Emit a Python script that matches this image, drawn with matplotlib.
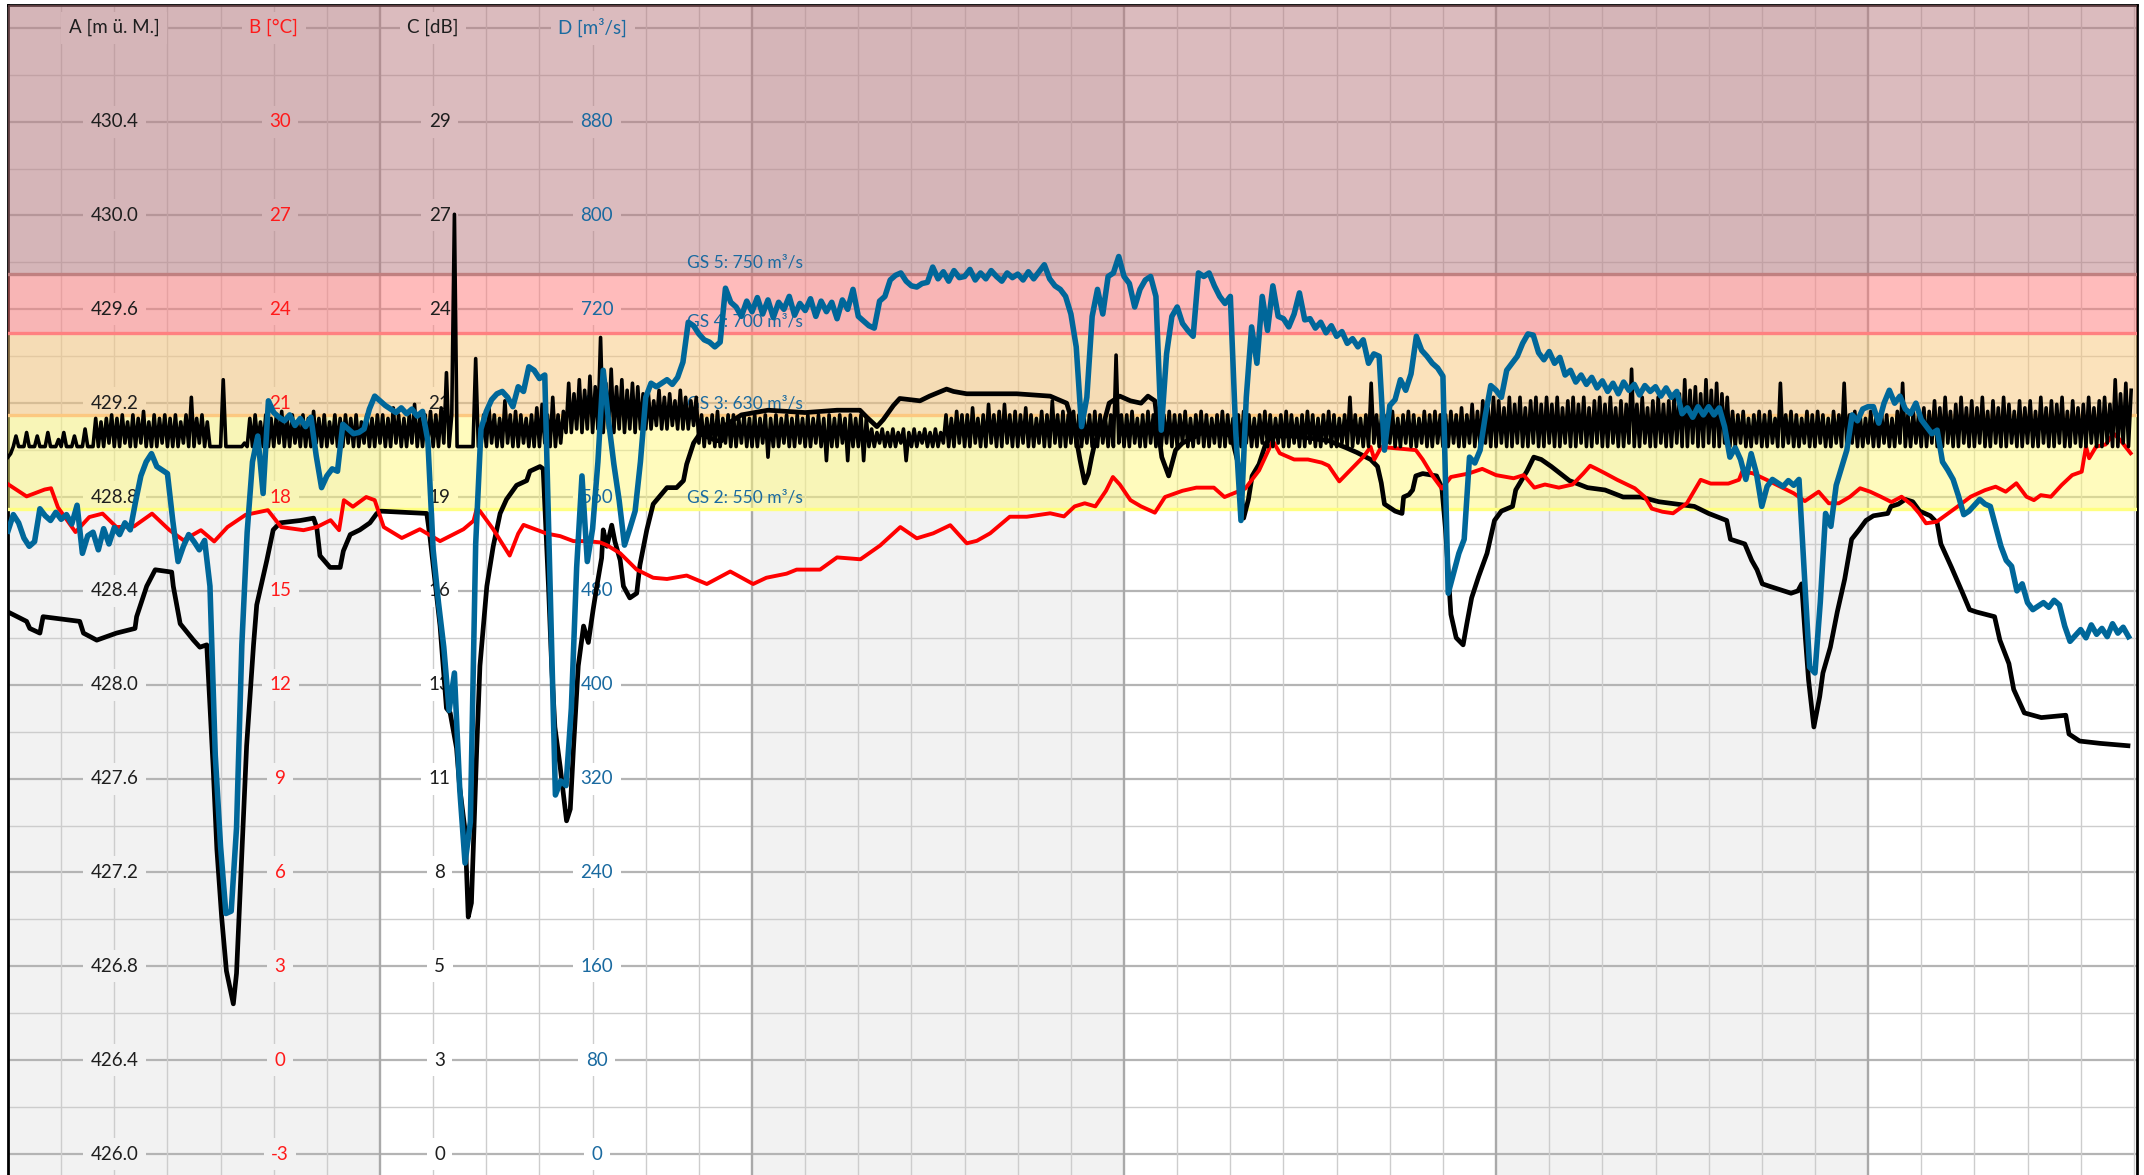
import numpy as np
import matplotlib.pyplot as plt
from matplotlib.transforms import blended_transform_factory
from matplotlib.patches import Rectangle

plt.rcParams['font.family'] = ['Lato', 'DejaVu Sans']

#============================================
# axis scales: one label row per major gridline
a_ticks = [426.0, 426.4, 426.8, 427.2, 427.6, 428.0, 428.4, 428.8, 429.2, 429.6, 430.0, 430.4]
b_ticks = [-3, 0, 3, 6, 9, 12, 15, 18, 21, 24, 27, 30]
c_ticks = [0, 3, 5, 8, 11, 13, 16, 19, 21, 24, 27, 29]
d_ticks = [0, 80, 160, 240, 320, 400, 480, 560, 640, 720, 800, 880]
axis_titles = ['A [m ü. M.]', 'B [°C]', 'C [dB]', 'D [m³/s]']

gs_levels = [550, 630, 700, 750]
gs_labels = ['GS 2: 550 m³/s', 'GS 3: 630 m³/s', 'GS 4: 700 m³/s', 'GS 5: 750 m³/s']

#============================================
# A (black, smooth)
a_days = [0.00, 0.35, 0.41, 0.60, 0.66, 1.35, 1.42, 1.67, 2.04, 2.39,
          2.42, 2.61, 2.77, 3.08, 3.11, 3.24, 3.49, 3.61, 3.74, 3.80,
          3.86, 3.93, 4.02, 4.11, 4.24, 4.30, 4.37, 4.49, 4.62, 4.68,
          4.80, 4.87, 4.99, 5.12, 5.50, 5.75, 5.81, 5.87, 6.06, 6.25,
          6.31, 6.44, 6.62, 6.81, 6.94, 7.00, 7.88, 7.94, 8.00, 8.13,
          8.25, 8.32, 8.44, 8.50, 8.60, 8.66, 8.72, 8.82, 8.88, 9.01,
          9.13, 9.26, 9.38, 9.57, 9.76, 9.82, 10.01, 10.07, 10.10, 10.17,
          10.23, 10.29, 10.39, 10.51, 10.58, 10.64, 10.73, 10.83, 10.92, 11.01,
          11.08, 11.17, 11.20, 11.27, 11.36, 11.42, 11.52, 11.58, 11.70, 11.83,
          11.89, 12.02, 12.14, 12.40, 12.58, 12.71, 12.77, 12.90, 13.02, 13.33,
          13.43, 13.46, 13.80, 14.30, 15.00, 15.60, 16.03, 16.16, 16.35, 16.47,
          16.66, 16.78, 17.16, 17.34, 17.66, 17.79, 18.04, 18.67, 18.98, 19.61,
          19.92, 20.07, 20.17, 20.26, 20.33, 20.39, 20.46, 20.59, 20.72, 20.92,
          21.12, 21.32, 21.45, 21.58, 21.64, 21.71, 21.84, 21.90, 21.97, 22.10,
          22.36, 22.56, 22.89, 23.02, 23.15, 23.25, 23.34, 23.41, 23.54, 23.67,
          23.80, 24.20, 24.85, 25.18, 25.38, 25.64, 25.77, 25.84, 25.90, 26.10,
          26.23, 26.26, 26.36, 26.43, 26.49, 26.62, 26.88, 26.98, 27.05, 27.15,
          27.25, 27.38, 27.45, 27.54, 27.67, 27.83, 27.97, 28.10, 28.31, 28.37,
          28.58, 28.71, 28.85, 29.04, 29.38, 29.72, 30.05, 30.39, 30.73, 31.06,
          31.40, 31.73, 32.00, 32.34, 32.41, 32.68, 32.81, 32.91, 33.01, 33.14,
          33.55, 33.68, 33.75, 33.81, 33.88, 33.98, 34.09, 34.15, 34.29, 34.42,
          34.56, 34.69, 34.83, 34.96, 35.10, 35.37, 35.43, 35.57, 35.70, 35.84,
          35.97, 36.17, 36.30, 36.37, 36.57, 36.78, 36.91, 37.04, 37.38, 37.48,
          37.65, 37.74, 37.94, 38.26, 38.72, 38.78, 38.98, 39.37, 39.89]
a_vals = [428.31, 428.27, 428.24, 428.22, 428.29, 428.27, 428.22, 428.19, 428.22, 428.24,
          428.29, 428.42, 428.49, 428.48, 428.42, 428.26, 428.19, 428.16, 428.17, 427.91,
          427.65, 427.30, 427.01, 426.78, 426.64, 426.77, 427.13, 427.74, 428.17, 428.34,
          428.46, 428.53, 428.66, 428.69, 428.70, 428.71, 428.67, 428.55, 428.50, 428.50,
          428.57, 428.64, 428.66, 428.69, 428.73, 428.74, 428.73, 428.63, 428.51, 428.25,
          427.90, 427.88, 427.73, 427.56, 427.38, 427.01, 427.07, 427.73, 428.08, 428.42,
          428.59, 428.73, 428.79, 428.85, 428.87, 428.91, 428.93, 428.92, 428.77, 428.42,
          428.08, 427.82, 427.65, 427.42, 427.47, 427.73, 428.08, 428.25, 428.18, 428.32,
          428.42, 428.54, 428.66, 428.59, 428.68, 428.61, 428.53, 428.42, 428.37, 428.39,
          428.51, 428.66, 428.77, 428.84, 428.84, 428.87, 428.94, 429.03, 429.07, 429.04,
          429.04, 429.10, 429.15, 429.17, 429.16, 429.17, 429.17, 429.14, 429.10, 429.13,
          429.19, 429.22, 429.21, 429.23, 429.26, 429.25, 429.24, 429.24, 429.24, 429.23,
          429.20, 429.09, 428.96, 428.86, 428.90, 428.97, 429.04, 429.09, 429.20, 429.23,
          429.21, 429.20, 429.23, 429.21, 429.09, 428.97, 428.89, 428.94, 429.00, 429.03,
          429.06, 429.09, 429.07, 429.06, 428.94, 428.71, 428.79, 428.89, 428.94, 429.03,
          429.06, 429.06, 429.04, 429.01, 428.99, 428.96, 428.93, 428.86, 428.77, 428.74,
          428.73, 428.80, 428.81, 428.83, 428.89, 428.90, 428.89, 428.84, 428.66, 428.30,
          428.20, 428.17, 428.26, 428.37, 428.46, 428.56, 428.70, 428.74, 428.76, 428.83,
          428.91, 428.97, 428.96, 428.93, 428.87, 428.84, 428.83, 428.80, 428.80, 428.78,
          428.77, 428.76, 428.73, 428.70, 428.62, 428.60, 428.53, 428.49, 428.43, 428.42,
          428.39, 428.40, 428.43, 428.23, 428.02, 427.82, 427.95, 428.05, 428.16, 428.31,
          428.45, 428.62, 428.66, 428.70, 428.72, 428.73, 428.76, 428.77, 428.79, 428.78,
          428.74, 428.72, 428.69, 428.60, 428.50, 428.39, 428.32, 428.31, 428.29, 428.19,
          428.09, 427.98, 427.88, 427.86, 427.87, 427.79, 427.76, 427.75, 427.74]

# B (red)
b_days = [0.00, 0.35, 0.69, 0.81, 0.94, 1.27, 1.53, 1.78, 2.04, 2.37,
          2.71, 3.04, 3.30, 3.63, 3.88, 4.13, 4.47, 4.89, 5.14, 5.56,
          5.81, 6.07, 6.23, 6.32, 6.49, 6.74, 6.90, 7.07, 7.41, 7.75,
          8.13, 8.57, 8.76, 8.82, 8.88, 9.13, 9.44, 9.60, 9.70, 9.95,
          10.14, 10.39, 10.64, 10.89, 11.14, 11.27, 11.52, 11.83, 12.14, 12.40,
          12.77, 13.15, 13.59, 14.02, 14.27, 14.65, 14.84, 15.28, 15.60, 16.04,
          16.41, 16.79, 17.10, 17.41, 17.73, 18.04, 18.23, 18.48, 18.85, 19.17,
          19.61, 19.87, 20.07, 20.26, 20.46, 20.66, 20.79, 20.92, 21.12, 21.32,
          21.58, 21.77, 22.10, 22.36, 22.69, 22.89, 23.28, 23.54, 23.80, 23.93,
          24.20, 24.46, 24.72, 24.85, 25.05, 25.25, 25.51, 25.64, 25.71, 25.84,
          26.17, 26.49, 26.62, 26.82, 26.98, 27.15, 27.48, 27.74, 28.00, 28.33,
          28.52, 28.72, 28.92, 29.18, 29.44, 29.64, 29.77, 29.89, 30.05, 30.28,
          30.61, 30.80, 30.93, 31.13, 31.33, 31.59, 31.85, 32.04, 32.37, 32.57,
          32.63, 32.83, 33.09, 33.35, 33.60, 33.81, 34.07, 34.26, 34.45, 34.66,
          34.85, 35.04, 35.24, 35.44, 35.63, 35.83, 35.96, 36.09, 36.29, 36.42,
          36.68, 36.93, 37.20, 37.40, 37.59, 37.79, 37.98, 38.12, 38.25, 38.44,
          38.64, 38.84, 39.02, 39.10, 39.16, 39.29, 39.47, 39.62, 39.75, 39.94]
b_vals = [18.41, 18.02, 18.24, 18.28, 17.67, 16.88, 17.36, 17.47, 17.04, 17.06,
          17.47, 16.94, 16.62, 16.94, 16.58, 17.04, 17.43, 17.58, 17.04, 16.94,
          17.04, 17.26, 16.94, 17.90, 17.69, 18.00, 17.90, 17.04, 16.69, 16.97,
          16.59, 16.97, 17.24, 17.63, 17.55, 16.97, 16.13, 16.83, 17.11, 16.95,
          16.83, 16.75, 16.59, 16.59, 16.55, 16.46, 16.20, 15.68, 15.42, 15.38,
          15.49, 15.22, 15.62, 15.22, 15.42, 15.55, 15.68, 15.68, 16.07, 16.01,
          16.45, 17.04, 16.68, 16.84, 17.10, 16.52, 16.60, 16.84, 17.37, 17.37,
          17.48, 17.38, 17.70, 17.80, 17.70, 18.20, 18.64, 18.40, 17.90, 17.70,
          17.50, 18.00, 18.20, 18.30, 18.30, 18.00, 18.27, 18.85, 19.80, 19.40,
          19.20, 19.20, 19.10, 19.00, 18.50, 18.85, 19.30, 19.60, 19.20, 19.60,
          19.55, 19.50, 19.20, 18.64, 18.27, 18.64, 18.75, 18.90, 18.70, 18.60,
          18.70, 18.30, 18.40, 18.30, 18.40, 18.75, 19.00, 18.90, 18.76, 18.55,
          18.28, 18.00, 17.63, 17.53, 17.48, 17.80, 18.55, 18.43, 18.43, 18.55,
          18.81, 18.76, 18.55, 18.33, 18.12, 17.87, 18.17, 17.80, 17.80, 18.01,
          18.28, 18.17, 18.01, 17.84, 18.01, 17.74, 17.48, 17.16, 17.21, 17.37,
          17.69, 18.01, 18.22, 18.33, 18.17, 18.44, 18.01, 17.90, 18.06, 18.01,
          18.38, 18.70, 18.81, 19.61, 19.24, 19.61, 19.68, 20.03, 19.81, 19.40]

# C (black, noisy), one reading every 0.05 day (one row per day)
c_vals = [
    19.8, 19.9, 20.1, 20.4, 20.1, 20.1, 20.1, 20.5, 20.1, 20.1, 20.1, 20.4, 20.1, 20.1, 20.1, 20.5, 20.1, 20.1, 20.1, 20.3,
    20.1, 20.5, 20.1, 20.1, 20.1, 20.4, 20.1, 20.1, 20.1, 20.6, 20.1, 20.1, 20.1, 20.9, 20.1, 20.8, 20.1, 20.9, 20.2, 21.0,
    20.1, 20.9, 20.1, 21.0, 20.2, 20.8, 20.1, 21.0, 20.1, 20.9, 20.2, 21.1, 20.1, 20.8, 20.1, 21.0, 20.1, 20.9, 20.2, 21.0,
    20.1, 20.9, 20.1, 21.0, 20.1, 20.8, 20.2, 21.0, 20.1, 21.5, 20.1, 20.9, 20.2, 21.0, 20.1, 20.8, 20.1, 20.1, 20.1, 20.1,
    20.1, 22.0, 20.1, 20.1, 20.1, 20.1, 20.1, 20.1, 20.1, 20.2, 20.1, 20.9, 20.1, 21.0, 20.2, 20.8, 20.1, 21.0, 20.1, 20.9,
    20.1, 21.0, 20.2, 21.1, 20.1, 20.9, 20.1, 21.0, 20.2, 20.8, 20.1, 21.0, 20.1, 20.9, 20.1, 21.1, 20.2, 20.9, 20.1, 21.0,
    20.1, 20.8, 20.2, 21.0, 20.1, 20.9, 20.1, 21.0, 20.2, 20.9, 20.1, 21.0, 20.1, 20.8, 20.2, 21.0, 20.1, 20.9, 20.1, 21.0,
    20.2, 21.0, 20.1, 20.9, 20.1, 21.2, 20.2, 21.0, 20.1, 20.9, 20.1, 21.0, 20.2, 21.3, 20.1, 20.9, 20.1, 21.0, 20.2, 21.1,
    20.1, 21.0, 20.1, 21.2, 20.2, 22.2, 20.1, 21.0, 26.7, 20.1, 20.1, 20.1, 20.1, 20.1, 20.1, 20.1, 22.6, 20.1, 20.1, 21.0,
    20.1, 21.2, 20.2, 21.0, 20.1, 20.9, 20.1, 21.4, 20.2, 21.0, 20.1, 21.1, 20.1, 21.0, 20.2, 20.9, 20.1, 21.0, 20.1, 21.2,
    20.1, 21.3, 20.2, 21.0, 20.1, 21.5, 20.1, 21.0, 20.2, 21.1, 20.5, 21.9, 20.5, 21.6, 20.6, 22.0, 20.5, 21.7, 20.6, 22.1,
    20.5, 21.8, 20.6, 23.2, 20.5, 21.9, 20.6, 22.3, 20.5, 21.8, 20.6, 22.0, 20.5, 21.7, 20.6, 21.9, 20.5, 21.8, 20.6, 21.6,
    20.6, 21.6, 20.6, 21.4, 20.7, 21.7, 20.6, 21.5, 20.6, 21.6, 20.7, 21.4, 20.6, 21.7, 20.6, 21.5, 20.6, 21.4, 20.7, 21.5,
    20.2, 21.0, 20.1, 20.9, 20.2, 21.0, 20.1, 21.1, 20.1, 20.9, 20.2, 21.0, 20.1, 21.0, 20.1, 20.9, 20.2, 21.0, 20.1, 20.9,
    20.1, 21.0, 20.1, 20.9, 20.2, 21.0, 19.8, 20.9, 20.1, 21.0, 20.1, 20.9, 20.2, 21.0, 20.1, 20.9, 20.1, 21.0, 20.2, 20.9,
    20.1, 21.0, 20.1, 20.9, 20.2, 21.0, 20.1, 20.9, 19.7, 21.0, 20.1, 20.9, 20.1, 21.0, 20.2, 20.9, 19.7, 21.0, 20.1, 20.9,
    20.1, 21.0, 19.7, 20.9, 20.1, 20.6, 20.1, 20.5, 20.2, 20.6, 20.1, 20.5, 20.1, 20.6, 20.1, 20.5, 20.2, 20.6, 19.7, 20.5,
    20.1, 20.6, 20.1, 20.5, 20.2, 20.6, 20.1, 20.5, 20.1, 20.6, 20.1, 20.5, 20.2, 21.0, 20.1, 20.9, 20.1, 21.1, 20.2, 21.0,
    20.1, 21.0, 20.1, 21.2, 20.2, 20.9, 20.1, 21.0, 20.1, 21.3, 20.2, 21.0, 20.1, 21.1, 20.1, 21.3, 20.2, 21.0, 20.1, 21.1,
    20.1, 21.0, 20.2, 21.2, 20.1, 21.0, 20.1, 20.9, 20.2, 21.1, 20.1, 21.0, 20.1, 21.4, 20.2, 21.0, 20.1, 21.1, 20.1, 21.0,
    20.2, 21.1, 20.1, 21.0, 20.1, 20.9, 20.2, 21.0, 20.1, 21.1, 20.1, 21.0, 20.2, 20.9, 20.1, 21.0, 20.1, 22.7, 20.2, 21.0,
    20.1, 21.0, 20.1, 21.1, 20.2, 20.9, 20.1, 21.0, 20.1, 21.1, 20.2, 21.0, 20.1, 20.9, 20.1, 21.0, 20.2, 21.1, 20.1, 21.0,
    20.1, 21.0, 20.2, 21.1, 20.1, 20.9, 20.1, 21.0, 20.2, 21.1, 20.1, 21.0, 20.1, 20.9, 20.2, 21.0, 20.1, 21.1, 20.1, 21.0,
    20.2, 20.9, 20.1, 21.0, 20.1, 21.1, 20.2, 21.0, 20.1, 20.9, 20.1, 21.0, 20.2, 21.1, 20.1, 21.0, 20.1, 20.9, 20.2, 21.0,
    20.1, 21.1, 20.1, 21.0, 20.2, 20.9, 20.1, 21.0, 20.1, 21.1, 20.2, 21.0, 20.1, 20.9, 20.1, 21.0, 20.2, 21.1, 20.1, 21.0,
    20.1, 20.9, 20.2, 21.0, 20.1, 21.5, 20.1, 21.0, 20.2, 20.9, 20.1, 21.0, 20.1, 21.9, 20.2, 21.0, 20.1, 21.1, 20.1, 21.0,
    20.2, 21.1, 20.1, 20.9, 20.1, 21.0, 20.2, 21.1, 20.1, 21.0, 20.1, 20.9, 20.2, 21.1, 20.1, 21.0, 20.1, 21.1, 20.2, 21.0,
    20.1, 21.0, 20.1, 21.1, 20.2, 21.0, 20.1, 21.2, 20.1, 21.0, 20.2, 21.3, 20.1, 21.1, 20.1, 21.4, 20.2, 21.2, 20.1, 21.5,
    20.1, 21.4, 20.2, 21.2, 20.1, 21.5, 20.1, 21.3, 20.2, 21.5, 20.1, 21.2, 20.1, 21.4, 20.2, 21.5, 20.1, 21.3, 20.1, 21.5,
    20.2, 21.3, 20.1, 21.5, 20.1, 21.2, 20.2, 21.4, 20.1, 21.5, 20.1, 21.3, 20.2, 21.5, 20.1, 21.2, 20.1, 21.4, 20.2, 21.5,
    20.1, 21.3, 20.1, 21.5, 20.2, 21.2, 20.1, 21.4, 20.1, 21.3, 20.2, 22.3, 20.1, 21.3, 20.1, 21.5, 20.2, 21.2, 20.1, 21.4,
    20.1, 21.5, 20.2, 21.3, 20.1, 21.4, 20.1, 21.5, 20.2, 21.6, 20.1, 22.0, 20.1, 21.7, 20.2, 21.8, 20.1, 21.6, 20.1, 22.0,
    20.2, 21.7, 20.1, 21.9, 20.1, 21.6, 20.2, 21.5, 20.1, 21.1, 20.1, 21.0, 20.2, 21.1, 20.1, 20.9, 20.1, 21.0, 20.2, 21.1,
    20.1, 21.0, 20.1, 21.1, 20.2, 20.9, 20.1, 21.9, 20.1, 21.0, 20.2, 21.1, 20.1, 21.0, 20.1, 20.9, 20.2, 21.1, 20.1, 21.0,
    20.1, 21.1, 20.2, 21.0, 20.1, 20.9, 20.1, 21.1, 20.2, 21.0, 20.1, 21.9, 20.1, 21.0, 20.2, 21.1, 20.1, 21.0, 20.1, 20.9,
    20.2, 21.1, 20.1, 21.0, 20.1, 21.1, 20.2, 21.0, 20.1, 20.9, 20.1, 21.1, 20.2, 21.9, 20.1, 21.0, 20.1, 21.1, 20.2, 21.0,
    20.1, 21.2, 20.1, 21.1, 20.2, 21.4, 20.1, 21.2, 20.1, 21.5, 20.2, 21.1, 20.1, 21.3, 20.1, 21.5, 20.2, 21.2, 20.1, 21.4,
    20.1, 21.2, 20.2, 21.5, 20.1, 21.1, 20.1, 21.4, 20.2, 21.2, 20.1, 21.5, 20.1, 21.3, 20.2, 21.1, 20.1, 21.4, 20.1, 21.2,
    20.2, 21.4, 20.1, 21.1, 20.1, 21.5, 20.2, 21.2, 20.1, 21.4, 20.1, 21.3, 20.2, 21.5, 20.1, 21.1, 20.1, 21.4, 20.2, 21.2,
    20.1, 21.3, 20.1, 21.5, 20.2, 21.2, 20.1, 21.4, 20.1, 21.5, 20.2, 21.3, 20.1, 22.0, 20.1, 21.6, 20.2, 21.9, 20.1, 21.7]

# D (blue), one reading every 0.1 day
d_vals = [531, 545, 538, 525, 518, 522, 550, 544, 540, 547,
          541, 545, 537, 553, 512, 527, 530, 515, 533, 520,
          534, 528, 538, 532, 556, 578, 590, 597, 586, 583,
          580, 540, 505, 518, 528, 522, 515, 523, 484, 340,
          262, 205, 207, 278, 434, 530, 590, 612, 563, 642,
          632, 628, 625, 630, 621, 627, 620, 628, 595, 568,
          578, 584, 582, 622, 618, 614, 615, 618, 635, 646,
          642, 638, 635, 632, 636, 631, 635, 629, 633, 608,
          515, 470, 432, 378, 410, 311, 248, 283, 520, 618,
          633, 643, 648, 650, 645, 637, 654, 650, 671, 668,
          661, 664, 484, 306, 318, 314, 380, 500, 578, 505,
          533, 590, 668, 625, 588, 557, 519, 533, 548, 590,
          645, 657, 654, 657, 660, 656, 662, 675, 709, 706,
          699, 694, 692, 688, 692, 738, 726, 722, 714, 727,
          718, 730, 716, 728, 713, 726, 720, 731, 715, 725,
          719, 729, 714, 727, 718, 726, 712, 728, 720, 737,
          714, 710, 706, 704, 727, 731, 745, 749, 751, 744,
          740, 739, 742, 743, 756, 746, 752, 744, 753, 747,
          748, 754, 745, 751, 746, 753, 748, 744, 751, 747,
          750, 745, 752, 746, 752, 758, 746, 740, 737, 731,
          716, 688, 620, 645, 714, 737, 716, 748, 751, 765,
          748, 742, 722, 737, 745, 748, 731, 617, 682, 714,
          722, 708, 702, 697, 751, 748, 751, 740, 731, 725,
          731, 617, 540, 645, 705, 674, 731, 702, 740, 714,
          712, 705, 716, 734, 711, 712, 704, 709, 700, 706,
          697, 701, 691, 695, 688, 694, 674, 682, 680, 600,
          638, 643, 660, 651, 665, 697, 685, 680, 674, 670,
          663, 478, 495, 512, 524, 594, 589, 600, 630, 655,
          651, 645, 668, 674, 680, 691, 699, 698, 683, 677,
          684, 674, 679, 664, 668, 658, 664, 656, 662, 653,
          659, 650, 657, 648, 658, 651, 656, 647, 655, 650,
          654, 646, 653, 645, 650, 631, 636, 628, 637, 630,
          637, 630, 636, 620, 594, 602, 592, 575, 597, 580,
          552, 569, 575, 572, 569, 574, 570, 575, 495, 415,
          410, 470, 546, 535, 570, 585, 600, 630, 625, 635,
          637, 637, 623, 640, 651, 640, 646, 635, 631, 640,
          626, 620, 614, 617, 590, 583, 575, 561, 545, 548,
          553, 558, 554, 552, 535, 518, 506, 501, 480, 486,
          470, 464, 467, 470, 466, 472, 468, 450, 437, 442,
          447, 440, 451, 443, 448, 441, 452, 444, 449, 441]

c_days = np.arange(len(c_vals)) / 20.0
d_days = np.arange(len(d_vals)) / 10.0

#============================================
# layout / styles
W, H = 2144, 1175
fig = plt.figure(figsize=(W / 100, H / 100), dpi=100)
ax = fig.add_axes([8 / W, 0, (2137 - 8) / W, (H - 5) / H])

a_row = 0.4                    # A units per major gridline
a_lim = (425.9105, 430.897)
x_lim = (0, 40.06)
title_row = a_ticks[-1] + a_row

def twin_lim(v0, per_row):
    return [v0 + (a - a_ticks[0]) / a_row * per_row for a in a_lim]

week_fill = '#f2f2f2'
line_blue = '#00679a'
text_blue = '#1a6aa0'
text_red = '#ff1a1a'
text_black = '#1e1e1e'

# alternating week columns
for w in range(0, 42, 14):
    ax.axvspan(w, w + 7, color=week_fill, lw=0, zorder=0)

# grid
for a in a_ticks + [title_row]:
    ax.axhline(a, color='#b4b4b4', lw=1.6, zorder=1)
for a in a_ticks:
    ax.axhline(a + a_row / 2, color='#cdcdcd', lw=1.0, zorder=1)
for d in range(1, 41):
    if d % 7 == 0:
        ax.axvline(d, color='#a9a9a9', lw=1.7, zorder=1)
    else:
        ax.axvline(d, color='#cdcdcd', lw=1.0, zorder=1)

# twin axes for B, C, D
ax_b = ax.twinx()
ax_c = ax.twinx()
ax_d = ax.twinx()
ax_b.set_ylim(twin_lim(b_ticks[0], 3))
ax_c.set_ylim(twin_lim(c_ticks[0], 8 / 3))
ax_d.set_ylim(twin_lim(d_ticks[0], 80))
for t in (ax_b, ax_c, ax_d):
    t.axis('off')

# GS bands (alpha over the week columns)
band_tf = blended_transform_factory(ax.transAxes, ax_d.transData)
band_colours = ['#fff97d', '#f9c779', '#ff7979', '#b9797f']
line_colours = ['#ffff80', '#fcc880', '#ff8080', '#c08080']
band_edges = gs_levels + [2000]
for lo, hi, fc in zip(band_edges[:-1], band_edges[1:], band_colours):
    ax.add_patch(Rectangle((0, lo), 1, hi - lo, transform=band_tf,
                           fc=fc, ec='none', alpha=0.5, zorder=3))
for lvl, lc in zip(gs_levels, line_colours):
    ax.plot([0, 1], [lvl, lvl], transform=band_tf, color=lc, lw=2.4, zorder=3.5)

gs_tf = blended_transform_factory(ax.transData, ax_d.transData)
for lvl, txt in zip(gs_levels, gs_labels):
    ax.annotate(txt, xy=(12.78, lvl), xycoords=gs_tf, xytext=(0, 4.5),
                textcoords='offset points', color=text_blue, fontsize=12.5,
                ha='left', va='baseline', zorder=4)

# tick labels inside the plot
label_x = [2.0, 5.12, 8.12, 11.08]
title_x = [2.0, 5.0, 8.0, 11.0]
label_colours = [text_black, text_red, text_black, text_blue]
label_texts = [[f'{v:.1f}' for v in a_ticks], [str(v) for v in b_ticks],
               [str(v) for v in c_ticks], [str(v) for v in d_ticks]]

def put_label(x, y, s, colour):
    bg = week_fill if int(x // 7) % 2 == 0 else 'white'
    ax.text(x, y, s, color='none', fontsize=13.5, ha='center', va='center', zorder=2,
            bbox=dict(boxstyle='square,pad=0.4', fc=bg, ec='none'))
    ax.text(x, y, s, color=colour, fontsize=13.5, ha='center', va='center', zorder=4)

for x, tx, texts, col, title in zip(label_x, title_x, label_texts, label_colours, axis_titles):
    for a, s in zip(a_ticks, texts):
        put_label(x, a, s, col)
    put_label(tx, title_row, title, col)

# series
ax.plot(a_days, a_vals, color='black', lw=3.4, zorder=6)
ax_b.plot(b_days, b_vals, color='#ff0000', lw=2.8)
ax_c.plot(c_days, c_vals, color='black', lw=2.6)
ax_d.plot(d_days, d_vals, color=line_blue, lw=4.0)

ax.set_xlim(x_lim)
ax.set_ylim(a_lim)
ax.set_xticks([])
ax.set_yticks([])
for side in ('top', 'left', 'right'):
    ax.spines[side].set_linewidth(2)
    ax.spines[side].set_color('black')
ax.spines['bottom'].set_visible(False)

fig.savefig('out.png', dpi=100)
